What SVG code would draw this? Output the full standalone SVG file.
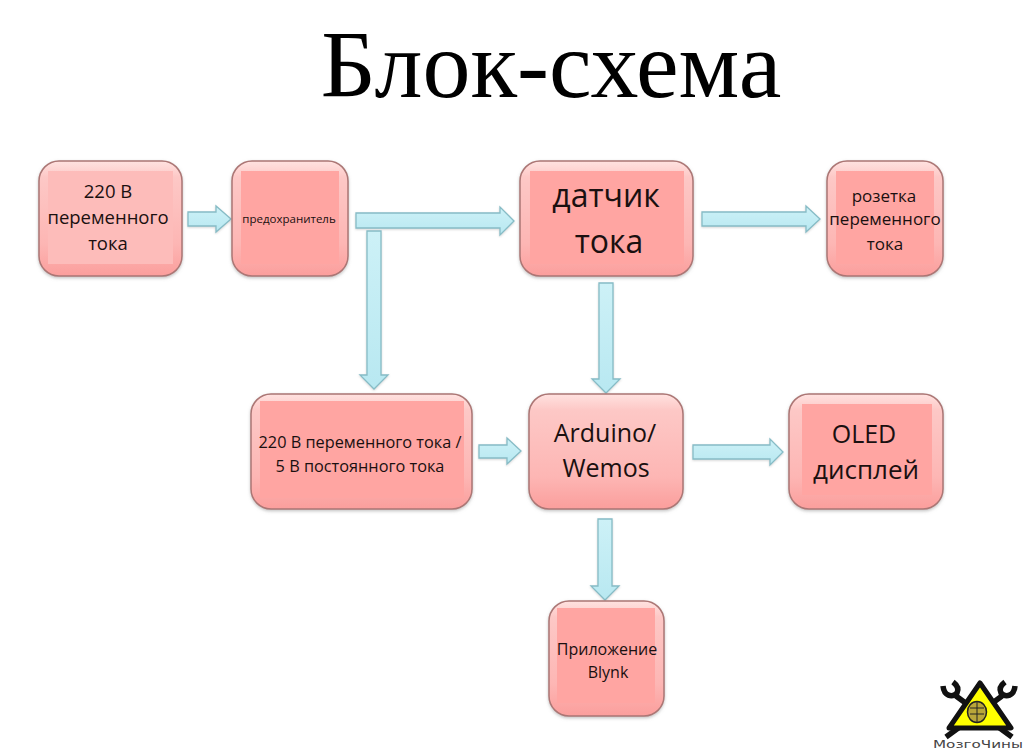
<svg xmlns="http://www.w3.org/2000/svg" width="1024" height="750" viewBox="0 0 1024 750">
<style>
text{font-family:"Open Sans","Noto Sans","DejaVu Sans",sans-serif;fill:#1a1010;text-anchor:middle}
.box{fill:url(#boxg);stroke:#ab7674;stroke-width:1.5;filter:url(#sh)}
.inner{fill:#ffa5a2}
.arrow{fill:url(#arrg);stroke:#86bcc6;stroke-width:1.3;stroke-linejoin:miter;filter:url(#ash)}
.wr{fill:none;stroke:#111;stroke-width:5.500;stroke-linecap:butt}
</style>
<defs>
<linearGradient id="boxg" x1="0" y1="0" x2="0" y2="1"><stop offset="0" stop-color="#ffe2e0"/><stop offset=".14" stop-color="#fdc8c6"/><stop offset=".72" stop-color="#fdb6b4"/><stop offset="1" stop-color="#fb9e9c"/></linearGradient>
<linearGradient id="arrg" x1="0" y1="0" x2="0" y2="1"><stop offset="0" stop-color="#cdf1f7"/><stop offset="1" stop-color="#b8e8f1"/></linearGradient>
<filter id="sh" x="-10%" y="-10%" width="120%" height="120%"><feDropShadow dx="0" dy="1.500" stdDeviation="1.500" flood-color="#888" flood-opacity=".5"/></filter>
<filter id="ash" x="-10%" y="-10%" width="120%" height="120%"><feDropShadow dx="0" dy="1" stdDeviation="1" flood-color="#999" flood-opacity=".4"/></filter>
</defs>
<rect width="1024" height="750" fill="#fff"/>
<text x="551" y="97" style="font-family:'Liberation Serif',serif;font-size:96px;fill:#000">Блок-схема</text>
<g id="connectors">
<path class="arrow" d="M188 212H216V206L231 219L216 232V226H188Z"/>
<path class="arrow" d="M356 213H500V207L514 221L500 235V228H356Z"/>
<path class="arrow" d="M367 231H381V375H388L374 389L360 375H367Z"/>
<path class="arrow" d="M702 212H806V206L820 219L806 232V226H702Z"/>
<path class="arrow" d="M599 283H613V379H620L606 393L592 379H599Z"/>
<path class="arrow" d="M479 445H507V438L521 451L507 464V458H479Z"/>
<path class="arrow" d="M693 445H770V439L783 452L770 465V459H693Z"/>
<path class="arrow" d="M598 519H612V586H619L605 600L591 586H598Z"/>
</g>
<g id="n220"><rect class="box" x="39" y="161" width="143" height="115" rx="20"/><rect x="48" y="171" width="125" height="93" fill="#fdbcba"/><text x="108" y="198" font-size="18.500">220 В</text><text x="108" y="224" font-size="18.500">переменного</text><text x="108" y="250" font-size="18.500">тока</text></g>
<g id="fuse"><rect class="box" x="232" y="161" width="116" height="115" rx="20"/><rect class="inner" x="241" y="171" width="98" height="93"/><text x="289" y="223" font-size="11.500">предохранитель</text></g>
<g id="sensor"><rect class="box" x="520" y="161" width="173" height="115" rx="20"/><rect class="inner" x="530" y="171" width="154" height="93"/><text x="606" y="207" font-size="32">датчик</text><text x="609" y="253" font-size="32">тока</text></g>
<g id="socket"><rect class="box" x="827" y="161" width="116" height="115" rx="20"/><rect class="inner" x="836" y="171" width="98" height="93"/><text x="884" y="202" font-size="17">розетка</text><text x="885" y="225" font-size="17">переменного</text><text x="885" y="250" font-size="17">тока</text></g>
<g id="psu"><rect class="box" x="251" y="394" width="221" height="115" rx="20"/><rect class="inner" x="260" y="401" width="204" height="97"/><text x="360" y="448" font-size="16.300">220 В переменного тока /</text><text x="360" y="472" font-size="16.300">5 В постоянного тока</text></g>
<g id="arduino"><rect class="box" x="529" y="394" width="154" height="115" rx="20"/><text x="605" y="442" font-size="25">Arduino/</text><text x="606" y="477" font-size="25">Wemos</text></g>
<g id="oled"><rect class="box" x="789" y="394" width="154" height="115" rx="20"/><rect class="inner" x="802" y="404" width="130" height="91"/><text x="864" y="443" font-size="25">OLED</text><text x="866" y="479" font-size="26">дисплей</text></g>
<g id="app"><rect class="box" x="549" y="601" width="115" height="115" rx="20"/><rect class="inner" x="557" y="608" width="98" height="95"/><text x="607" y="655" font-size="16">Приложение</text><text x="608" y="678" font-size="16">Blynk</text></g>
<g id="logo">
<path class="wr" d="M956 696L1012 737M943 686C944 696 952 698 957 693C959 689 957 685 953 682"/>
<path class="wr" d="M1002 696L946 737M1015 686C1014 696 1006 698 1001 693C999 689 1001 685 1005 682"/>
<path d="M980 683L1011 728H949Z" fill="#ffff00" stroke="#111" stroke-width="5" stroke-linejoin="round"/>
<ellipse cx="977" cy="712" rx="9.500" ry="10.500" fill="#b9a63a" stroke="#222" stroke-width="1.500"/>
<path d="M977 702V722M970 708H984M970 714H984" stroke="#222" stroke-width="1" fill="none"/>
<text x="978" y="748" font-size="10.500" textLength="90" lengthAdjust="spacingAndGlyphs" style="font-family:'DejaVu Sans',sans-serif;fill:#444">МозгоЧины</text>
</g>
</svg>
